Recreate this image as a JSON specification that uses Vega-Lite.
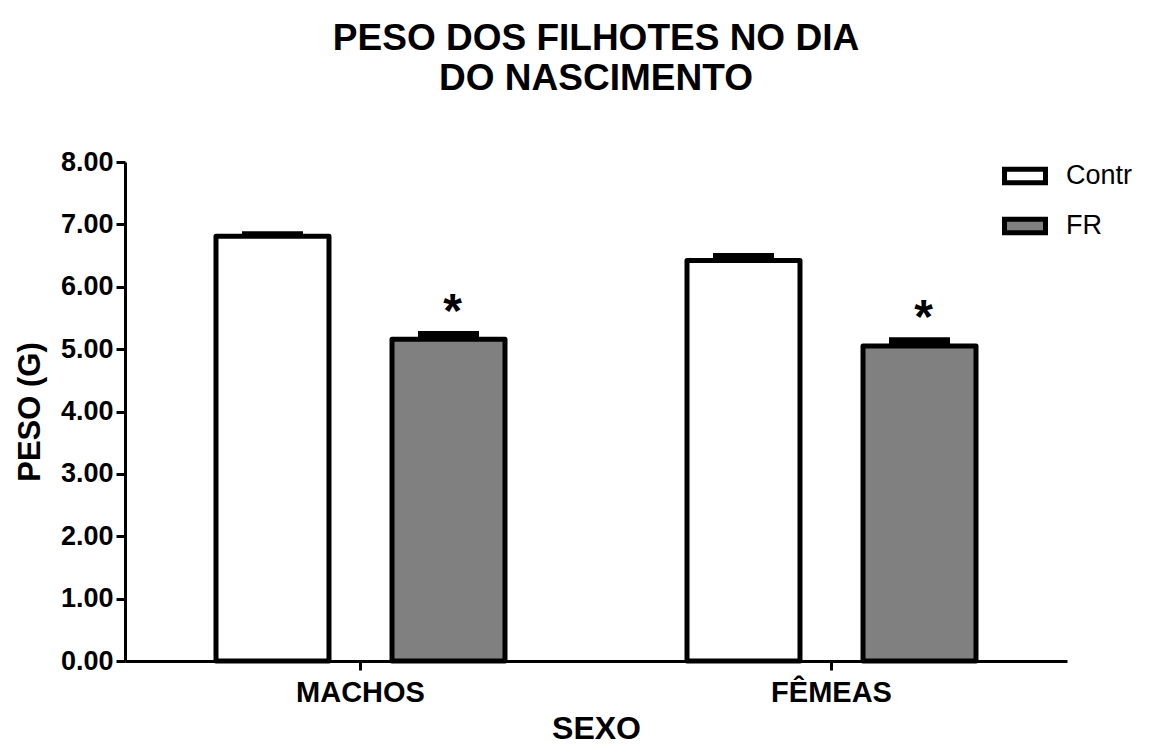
{
  "$schema": "https://vega.github.io/schema/vega-lite/v6.json",
  "width": 942,
  "height": 499,
  "autosize": {"type": "none"},
  "padding": {"left": 125, "top": 162, "right": 82, "bottom": 83},
  "background": "white",
  "title": {
    "text": ["PESO DOS FILHOTES NO DIA", "DO NASCIMENTO"],
    "fontSize": 37,
    "font": "Liberation Sans",
    "fontWeight": "bold",
    "lineHeight": 40,
    "anchor": "middle",
    "offset": 50,
    "color": "black"
  },
  "data": {
    "values": [
      {"sexo": "MACHOS", "grupo": "Contr", "peso": 6.81, "sup": 6.89, "sig": ""},
      {"sexo": "MACHOS", "grupo": "FR", "peso": 5.16, "sup": 5.29, "sig": "*"},
      {"sexo": "FÊMEAS", "grupo": "Contr", "peso": 6.42, "sup": 6.54, "sig": ""},
      {"sexo": "FÊMEAS", "grupo": "FR", "peso": 5.05, "sup": 5.19, "sig": "*"}
    ]
  },
  "encoding": {
    "x": {
      "field": "sexo",
      "type": "nominal",
      "sort": ["MACHOS", "FÊMEAS"],
      "scale": {"paddingInner": 0, "paddingOuter": 0},
      "axis": {
        "title": "SEXO",
        "labelAngle": 0,
        "labelFontSize": 29,
        "labelFontWeight": "bold",
        "titleFontSize": 32,
        "titleFontWeight": "bold",
        "tickSize": 9,
        "tickWidth": 3,
        "domainWidth": 3,
        "domainColor": "black",
        "tickColor": "black",
        "labelColor": "black",
        "titleColor": "black",
        "labelPadding": 8,
        "titlePadding": 6
      }
    },
    "xOffset": {
      "field": "grupo",
      "type": "nominal",
      "sort": ["Contr", "FR"],
      "scale": {"paddingInner": 0.358, "paddingOuter": 0.517}
    }
  },
  "layer": [
    {
      "mark": {"type": "bar", "stroke": "black", "strokeWidth": 5, "strokeJoin": "round"},
      "encoding": {
        "y": {
          "field": "peso",
          "type": "quantitative",
          "scale": {"domain": [0, 8], "nice": false},
          "axis": {
            "title": "PESO (G)",
            "values": [0, 1, 2, 3, 4, 5, 6, 7, 8],
            "format": ".2f",
            "labelFontSize": 27,
            "labelFontWeight": "bold",
            "titleFontSize": 31,
            "titleFontWeight": "bold",
            "tickSize": 9,
            "tickWidth": 3,
            "domainWidth": 3,
            "domainColor": "black",
            "tickColor": "black",
            "labelColor": "black",
            "titleColor": "black",
            "grid": false,
            "labelPadding": 3,
            "titlePadding": 14
          }
        },
        "fill": {
          "field": "grupo",
          "type": "nominal",
          "sort": ["Contr", "FR"],
          "scale": {"range": ["white", "#808080"]},
          "legend": {
            "title": null,
            "orient": "none",
            "legendX": 877,
            "legendY": -9,
            "symbolType": "M-1,-0.33H1V0.33H-1Z",
            "symbolSize": 1681,
            "symbolStrokeWidth": 5,
            "symbolStrokeColor": "black",
            "labelFontSize": 27,
            "labelOffset": 18,
            "rowPadding": 10,
            "labelColor": "black",
            "labelFont": "Liberation Sans"
          }
        }
      }
    },
    {
      "mark": {"type": "rule", "stroke": "black", "strokeWidth": 61, "strokeCap": "butt"},
      "encoding": {
        "y": {"field": "peso", "type": "quantitative"},
        "y2": {"field": "sup"}
      }
    },
    {
      "transform": [{"filter": "datum.sig == '*'"}],
      "mark": {"type": "text", "text": "*", "fontSize": 48, "fontWeight": "bold", "baseline": "alphabetic", "dy": -4, "dx": 4, "color": "black", "font": "Liberation Sans"},
      "encoding": {
        "y": {"field": "sup", "type": "quantitative"}
      }
    }
  ],
  "config": {
    "view": {"stroke": null},
    "font": "Liberation Sans",
    "axis": {"labelFont": "Liberation Sans", "titleFont": "Liberation Sans"}
  }
}
